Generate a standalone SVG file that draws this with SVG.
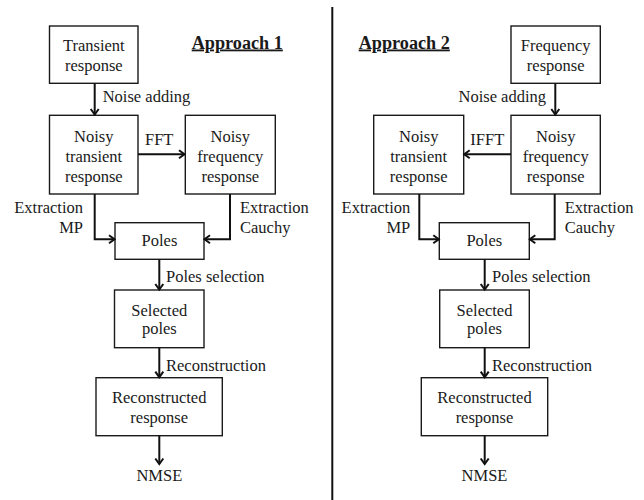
<svg xmlns="http://www.w3.org/2000/svg" width="644" height="500" viewBox="0 0 644 500">
<style>
text{font-family:"Liberation Serif","Times New Roman",serif;font-size:16.5px;fill:#1a1a1a}
.c{text-anchor:middle}
.r{text-anchor:end}
.h{font-weight:bold;text-decoration:underline;font-size:18.2px}
.box{fill:#fff;stroke:#1a1a1a;stroke-width:1.4}
.con{fill:none;stroke:#111;stroke-width:2;marker-end:url(#ah)}
</style>
<defs>
<marker id="ah" markerUnits="userSpaceOnUse" markerWidth="10" markerHeight="12" refX="7" refY="5" orient="auto" viewBox="0 0 10 10">
<path d="M1.5,1 L7,5 L1.5,9" fill="none" stroke="#111" stroke-width="2"/>
</marker>
</defs>
<line x1="332.3" y1="7" x2="332.3" y2="500" stroke="#111" stroke-width="2"/>
<text x="191.7" y="48.5" class="h">Approach 1</text>
<text x="358.7" y="48.5" class="h">Approach 2</text>

<g id="a1-transient"><rect class="box" x="49.5" y="26" width="88.5" height="57.3"/><text class="c" x="93.8" y="51">Transient</text><text class="c" x="93.8" y="71">response</text></g>
<g id="a1-noisy-transient"><rect class="box" x="49.5" y="115.3" width="88.5" height="78.7"/><text class="c" x="93.8" y="141.5">Noisy</text><text class="c" x="93.8" y="161.5">transient</text><text class="c" x="93.8" y="181.5">response</text></g>
<g id="a1-noisy-frequency"><rect class="box" x="185.3" y="115.3" width="90" height="78.7"/><text class="c" x="230.3" y="141.5">Noisy</text><text class="c" x="230.3" y="161.5">frequency</text><text class="c" x="230.3" y="181.5">response</text></g>
<g id="a1-poles"><rect class="box" x="115" y="222.7" width="89" height="36.6"/><text class="c" x="159.5" y="246">Poles</text></g>
<g id="a1-selected"><rect class="box" x="114.5" y="290" width="89.5" height="57.7"/><text class="c" x="159.3" y="315.5">Selected</text><text class="c" x="159.3" y="334">poles</text></g>
<g id="a1-reconstructed"><rect class="box" x="96" y="377.7" width="126.3" height="58"/><text class="c" x="159.2" y="402.5">Reconstructed</text><text class="c" x="159.2" y="422.5">response</text></g>
<g id="a1-nmse"><text class="c" x="159.3" y="481">NMSE</text></g>

<g id="a2-frequency"><rect class="box" x="511" y="26" width="89.3" height="57.3"/><text class="c" x="555.7" y="51">Frequency</text><text class="c" x="555.7" y="71">response</text></g>
<g id="a2-noisy-transient"><rect class="box" x="373.7" y="115.3" width="90" height="78.7"/><text class="c" x="418.7" y="141.5">Noisy</text><text class="c" x="418.7" y="161.5">transient</text><text class="c" x="418.7" y="181.5">response</text></g>
<g id="a2-noisy-frequency"><rect class="box" x="511" y="115.3" width="89.3" height="78.7"/><text class="c" x="555.7" y="141.5">Noisy</text><text class="c" x="555.7" y="161.5">frequency</text><text class="c" x="555.7" y="181.5">response</text></g>
<g id="a2-poles"><rect class="box" x="439.3" y="222.7" width="90" height="36.6"/><text class="c" x="484.3" y="246">Poles</text></g>
<g id="a2-selected"><rect class="box" x="439.7" y="290" width="89.6" height="57.7"/><text class="c" x="484.5" y="315.5">Selected</text><text class="c" x="484.5" y="334">poles</text></g>
<g id="a2-reconstructed"><rect class="box" x="421.3" y="377.7" width="126.4" height="58"/><text class="c" x="484.5" y="402.5">Reconstructed</text><text class="c" x="484.5" y="422.5">response</text></g>
<g id="a2-nmse"><text class="c" x="484.5" y="481">NMSE</text></g>

<g id="connectors">
<path class="con" d="M94.7,83.3 V114.5"/>
<path class="con" d="M138,154.3 H184.5"/>
<path class="con" d="M94.7,194 V239.3 H114.5"/>
<path class="con" d="M230,194 V239.3 H204.5"/>
<path class="con" d="M159.3,259.3 V289.5"/>
<path class="con" d="M159.3,347.7 V377.2"/>
<path class="con" d="M159.3,435.7 V464"/>

<path class="con" d="M555.3,83.3 V114.5"/>
<path class="con" d="M511,154.3 H464.2"/>
<path class="con" d="M419.3,194 V239.3 H438.8"/>
<path class="con" d="M554.7,194 V239.3 H529.8"/>
<path class="con" d="M484.7,259.3 V289.5"/>
<path class="con" d="M484.7,347.7 V377.2"/>
<path class="con" d="M484.7,435.7 V464"/>
</g>

<g id="labels">
<text x="102.7" y="102">Noise adding</text>
<text x="145" y="145">FFT</text>
<text class="r" x="83" y="213">Extraction</text>
<text class="r" x="83" y="233">MP</text>
<text x="240" y="213">Extraction</text>
<text x="240" y="233">Cauchy</text>
<text x="166" y="282">Poles selection</text>
<text x="166" y="371">Reconstruction</text>

<text class="r" x="546" y="102">Noise adding</text>
<text x="470.3" y="145">IFFT</text>
<text class="r" x="410.3" y="213">Extraction</text>
<text class="r" x="410.3" y="233">MP</text>
<text x="564.7" y="213">Extraction</text>
<text x="564.7" y="233">Cauchy</text>
<text x="492" y="282">Poles selection</text>
<text x="492" y="371">Reconstruction</text>
</g>
</svg>
